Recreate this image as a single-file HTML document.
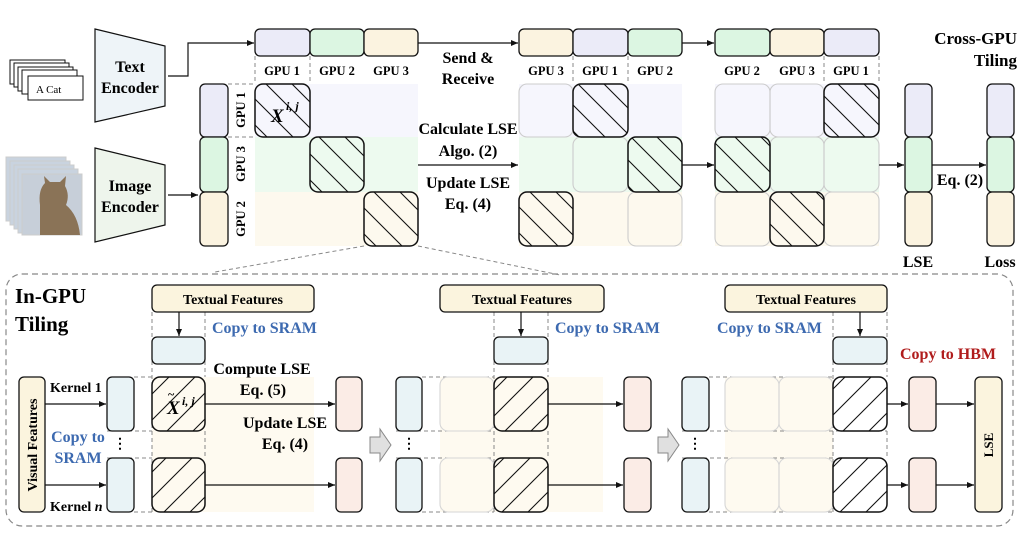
<!DOCTYPE html>
<html><head><meta charset="utf-8"><style>
html,body{margin:0;padding:0;background:#fff;}
svg{display:block;font-family:"Liberation Serif",serif;font-weight:bold;}
</style></head><body>
<svg width="1019" height="549" viewBox="0 0 1019 549" xmlns="http://www.w3.org/2000/svg">
<defs>
<pattern id="bs" patternUnits="userSpaceOnUse" width="26" height="26" x="0" y="0">
<path d="M-2,-2 L28,28 M-15,11 L15,41 M11,-15 L41,15" stroke="#111" stroke-width="1.1"/>
</pattern>
<pattern id="fs" patternUnits="userSpaceOnUse" width="26" height="26">
<path d="M-2,28 L28,-2 M-15,15 L15,-15 M11,41 L41,11" stroke="#111" stroke-width="1.1"/>
</pattern>
<marker id="ar" markerWidth="8" markerHeight="8" refX="7" refY="4" orient="auto" markerUnits="userSpaceOnUse">
<path d="M0,1 L7,4 L0,7 z" fill="#111"/>
</marker>
</defs>

<g fill="#fff" stroke="#111" stroke-width="1">
<rect x="10" y="60" width="55" height="24"/>
<rect x="14" y="63" width="55" height="24"/>
<rect x="18" y="67" width="55" height="24"/>
<rect x="22" y="70" width="55" height="24"/>
<rect x="28" y="76" width="55" height="24"/>
</g>
<text x="36" y="93" font-size="11" font-weight="normal">A Cat</text>
<g stroke="#ccc" stroke-width="1">
<rect x="6" y="157" width="60" height="64" fill="#c9d3df"/>
<rect x="10" y="161" width="60" height="64" fill="#c9d3df"/>
<rect x="14" y="165" width="60" height="64" fill="#c9d3df"/>
<rect x="18" y="169" width="60" height="64" fill="#c9d3df"/>
<rect x="22" y="174" width="60" height="61" fill="#c7cfd9"/>
</g>
<path d="M40,235 L40,205 Q38,190 45,183 L44,176 L50,182 L60,182 L66,176 L65,186 Q70,195 66,205 Q78,215 80,235 Z" fill="#8a7357"/>

<path d="M95,29 L165,46 L165,106 L95,122 Z" fill="#eef4f8" stroke="#111" stroke-width="1.2"/>
<path d="M95,148 L165,165 L165,225 L95,242 Z" fill="#eef5ec" stroke="#111" stroke-width="1.2"/>
<g font-size="16" text-anchor="middle">
<text x="130" y="72">Text</text><text x="130" y="93">Encoder</text>
<text x="130" y="191">Image</text><text x="130" y="212">Encoder</text>
</g>
<path d="M168,76 L188,76 L188,43 L254,43" fill="none" stroke="#111" stroke-width="1.2" marker-end="url(#ar)"/>
<path d="M168,195 L198,195" fill="none" stroke="#111" stroke-width="1.2" marker-end="url(#ar)"/>

<rect x="255" y="84" width="163" height="53" fill="#f6f6fd"/>
<rect x="255" y="137" width="163" height="55" fill="#edfaef"/>
<rect x="255" y="192" width="163" height="54" fill="#fdf9ee"/>
<rect x="519" y="84" width="163" height="53" fill="#f6f6fd"/>
<rect x="519" y="137" width="163" height="55" fill="#edfaef"/>
<rect x="519" y="192" width="163" height="54" fill="#fdf9ee"/>
<rect x="715" y="84" width="164" height="53" fill="#f6f6fd"/>
<rect x="715" y="137" width="164" height="55" fill="#edfaef"/>
<rect x="715" y="192" width="164" height="54" fill="#fdf9ee"/>

<g stroke="#111" stroke-width="1.3">
<rect x="255" y="29" width="55" height="27" rx="5" fill="#ebebf8"/>
<rect x="310" y="29" width="54" height="27" rx="5" fill="#dcf6e2"/>
<rect x="364" y="29" width="54" height="27" rx="5" fill="#fbf3e0"/>
<rect x="519" y="29" width="54" height="27" rx="5" fill="#fbf3e0"/>
<rect x="573" y="29" width="55" height="27" rx="5" fill="#ebebf8"/>
<rect x="628" y="29" width="54" height="27" rx="5" fill="#dcf6e2"/>
<rect x="715" y="29" width="55" height="27" rx="5" fill="#dcf6e2"/>
<rect x="770" y="29" width="54" height="27" rx="5" fill="#fbf3e0"/>
<rect x="824" y="29" width="55" height="27" rx="5" fill="#ebebf8"/>
<rect x="200" y="84" width="28" height="53" rx="5" fill="#ebebf8"/>
<rect x="200" y="137" width="28" height="55" rx="5" fill="#dcf6e2"/>
<rect x="200" y="192" width="28" height="54" rx="5" fill="#fbf3e0"/>
<rect x="905" y="84" width="27" height="53" rx="5" fill="#ebebf8"/>
<rect x="905" y="137" width="27" height="55" rx="5" fill="#dcf6e2"/>
<rect x="905" y="192" width="27" height="54" rx="5" fill="#fbf3e0"/>
<rect x="987" y="84" width="27" height="53" rx="5" fill="#ebebf8"/>
<rect x="987" y="137" width="27" height="55" rx="5" fill="#dcf6e2"/>
<rect x="987" y="192" width="27" height="54" rx="5" fill="#fbf3e0"/>
</g>
<g font-size="12.5" text-anchor="middle">
<text x="282" y="75">GPU 1</text><text x="337" y="75">GPU 2</text><text x="391" y="75">GPU 3</text>
<text x="546" y="75">GPU 3</text><text x="600" y="75">GPU 1</text><text x="655" y="75">GPU 2</text>
<text x="742" y="75">GPU 2</text><text x="797" y="75">GPU 3</text><text x="851" y="75">GPU 1</text>
</g>
<g font-size="12.5" text-anchor="middle">
<text transform="translate(245,110) rotate(-90)">GPU 1</text>
<text transform="translate(245,164) rotate(-90)">GPU 3</text>
<text transform="translate(245,219) rotate(-90)">GPU 2</text>
</g>
<g stroke="#888" stroke-width="1" stroke-dasharray="4,3" fill="none">
<path d="M255,56 V84 M310,56 V84 M228,84 H255 M228,137 H255"/>
<path d="M573,56 V84 M628,56 V84"/>
<path d="M824,56 V84 M879,56 V84"/>
<path d="M364,246 L215,272 M418,246 L560,275"/>
</g>

<g fill="none" stroke="#ccc" stroke-width="1.1">
<rect x="519" y="84" width="54" height="53" rx="8"/>
<rect x="573" y="137" width="55" height="55" rx="8"/>
<rect x="628" y="192" width="54" height="54" rx="8"/>
<rect x="715" y="84" width="55" height="53" rx="8"/>
<rect x="770" y="84" width="54" height="53" rx="8"/>
<rect x="770" y="137" width="54" height="55" rx="8"/>
<rect x="824" y="137" width="55" height="55" rx="8"/>
<rect x="715" y="192" width="55" height="54" rx="8"/>
<rect x="824" y="192" width="55" height="54" rx="8"/>
</g>
<g stroke="#111" stroke-width="1.5">
<rect x="255" y="84" width="55" height="53" rx="8" fill="url(#bs)"/>
<rect x="310" y="137" width="54" height="55" rx="8" fill="url(#bs)"/>
<rect x="364" y="192" width="54" height="54" rx="8" fill="url(#bs)"/>
<rect x="573" y="84" width="55" height="53" rx="8" fill="url(#bs)"/>
<rect x="628" y="137" width="54" height="55" rx="8" fill="url(#bs)"/>
<rect x="519" y="192" width="54" height="54" rx="8" fill="url(#bs)"/>
<rect x="824" y="84" width="55" height="53" rx="8" fill="url(#bs)"/>
<rect x="715" y="137" width="55" height="55" rx="8" fill="url(#bs)"/>
<rect x="770" y="192" width="54" height="54" rx="8" fill="url(#bs)"/>
</g>
<text x="271" y="122" font-size="19" font-style="italic">X</text>
<text x="286" y="110" font-size="12" font-style="italic">i, j</text>

<g stroke="#111" stroke-width="1.2" fill="none" marker-end="url(#ar)">
<path d="M418,43 H518"/>
<path d="M682,43 H714"/>
<path d="M418,165 H518"/>
<path d="M682,165 H714"/>
<path d="M879,165 H904"/>
<path d="M932,165 H986"/>
</g>
<g font-size="16" text-anchor="middle">
<text x="468" y="63">Send &amp;</text><text x="468" y="84">Receive</text>
<text x="468" y="134">Calculate LSE</text><text x="468" y="156">Algo. (2)</text>
<text x="468" y="188">Update LSE</text><text x="468" y="209">Eq. (4)</text>
<text x="960" y="185">Eq. (2)</text>
<text x="918" y="267">LSE</text><text x="1000" y="267">Loss</text>
</g>
<g font-size="17" text-anchor="end">
<text x="1017" y="44">Cross-GPU</text><text x="1017" y="66">Tiling</text>
</g>

<rect x="6" y="274" width="1007" height="252" rx="16" fill="none" stroke="#888" stroke-width="1.2" stroke-dasharray="6,4"/>
<text x="15" y="303" font-size="21">In-GPU</text>
<text x="15" y="331" font-size="21">Tiling</text>

<rect x="152" y="377" width="162" height="135" fill="#fefaf0"/>
<rect x="440" y="377" width="163" height="135" fill="#fefaf0"/>
<rect x="725" y="377" width="108" height="135" fill="#fefaf0"/>

<g stroke="#888" stroke-width="1" stroke-dasharray="4,3" fill="none">
<path d="M152,312 V512 M205,312 V377 M205,431 V458"/>
<path d="M134,377 H152 M107,431 H152 M107,458 H152 M134,512 H152"/>
<path d="M494,312 V512 M548,312 V377 M548,431 V458"/>
<path d="M422,377 H494 M396,431 H494 M396,458 H494 M422,512 H494"/>
<path d="M833,312 V512 M887,312 V377 M887,431 V458"/>
<path d="M709,377 H833 M682,431 H887 M682,458 H833 M709,512 H833"/>
</g>

<g stroke="#111" stroke-width="1.3">
<rect x="152" y="285" width="162" height="27" rx="5" fill="#fbf4de"/>
<rect x="440" y="285" width="164" height="27" rx="5" fill="#fbf4de"/>
<rect x="725" y="285" width="162" height="27" rx="5" fill="#fbf4de"/>
<rect x="152" y="337" width="53" height="27" rx="5" fill="#e9f3f6"/>
<rect x="494" y="337" width="54" height="27" rx="5" fill="#e9f3f6"/>
<rect x="833" y="337" width="54" height="27" rx="5" fill="#e9f3f6"/>
<rect x="19" y="377" width="26" height="135" rx="5" fill="#fbf4de"/>
<rect x="975" y="377" width="27" height="135" rx="5" fill="#fbf4de"/>
<rect x="107" y="377" width="27" height="54" rx="5" fill="#e9f3f6"/>
<rect x="107" y="458" width="27" height="54" rx="5" fill="#e9f3f6"/>
<rect x="396" y="377" width="26" height="54" rx="5" fill="#e9f3f6"/>
<rect x="396" y="458" width="26" height="54" rx="5" fill="#e9f3f6"/>
<rect x="682" y="377" width="27" height="54" rx="5" fill="#e9f3f6"/>
<rect x="682" y="458" width="27" height="54" rx="5" fill="#e9f3f6"/>
<rect x="336" y="377" width="26" height="54" rx="5" fill="#fbece6"/>
<rect x="336" y="458" width="26" height="54" rx="5" fill="#fbece6"/>
<rect x="624" y="377" width="27" height="54" rx="5" fill="#fbece6"/>
<rect x="624" y="458" width="27" height="54" rx="5" fill="#fbece6"/>
<rect x="909" y="377" width="27" height="54" rx="5" fill="#fbece6"/>
<rect x="909" y="458" width="27" height="54" rx="5" fill="#fbece6"/>
</g>
<g fill="none" stroke="#d6d6d6" stroke-width="1.1">
<rect x="440" y="377" width="54" height="54" rx="8"/>
<rect x="440" y="458" width="54" height="54" rx="8"/>
<rect x="725" y="377" width="54" height="54" rx="8"/>
<rect x="779" y="377" width="54" height="54" rx="8"/>
<rect x="725" y="458" width="54" height="54" rx="8"/>
<rect x="779" y="458" width="54" height="54" rx="8"/>
</g>
<g stroke="#111" stroke-width="1.5">
<rect x="152" y="377" width="53" height="54" rx="8" fill="url(#fs)"/>
<rect x="152" y="458" width="53" height="54" rx="8" fill="url(#fs)"/>
<rect x="494" y="377" width="54" height="54" rx="8" fill="url(#fs)"/>
<rect x="494" y="458" width="54" height="54" rx="8" fill="url(#fs)"/>
<rect x="833" y="377" width="54" height="54" rx="8" fill="url(#fs)"/>
<rect x="833" y="458" width="54" height="54" rx="8" fill="url(#fs)"/>
</g>
<text x="167" y="414" font-size="19" font-style="italic">X</text>
<text x="168" y="398" font-size="12">~</text>
<text x="182" y="405" font-size="12" font-style="italic">i, j</text>

<g stroke="#111" stroke-width="1.2" fill="none" marker-end="url(#ar)">
<path d="M179,312 V336"/><path d="M521,312 V336"/><path d="M860,312 V336"/>
<path d="M45,404 H106"/><path d="M45,485 H106"/>
<path d="M205,404 H335"/><path d="M205,485 H335"/>
<path d="M548,404 H623"/><path d="M548,485 H623"/>
<path d="M887,404 H908"/><path d="M887,485 H908"/>
<path d="M936,404 H974"/><path d="M936,485 H974"/>
</g>
<path d="M370,437 H380 V429 L391,445 L380,461 V453 H370 Z" fill="#e0e0e0" stroke="#888"/>
<path d="M658,437 H668 V429 L679,445 L668,461 V453 H658 Z" fill="#e0e0e0" stroke="#888"/>
<g font-size="14" text-anchor="middle"><text x="120" y="448">⋮</text><text x="409" y="448">⋮</text><text x="695" y="448">⋮</text></g>

<g font-size="14" text-anchor="middle">
<text x="233" y="304">Textual Features</text>
<text x="522" y="304">Textual Features</text>
<text x="806" y="304">Textual Features</text>
</g>
<g font-size="16" fill="#3d6ab0">
<text x="212" y="333">Copy to SRAM</text>
<text x="555" y="333">Copy to SRAM</text>
<text x="717" y="333">Copy to SRAM</text>
<text x="78" y="442" text-anchor="middle">Copy to</text>
<text x="78" y="463" text-anchor="middle">SRAM</text>
</g>
<text x="900" y="359" font-size="16" fill="#b01c1c">Copy to HBM</text>
<g font-size="16" text-anchor="middle">
<text x="262" y="374">Compute LSE</text>
<text x="263" y="395">Eq. (5)</text>
<text x="285" y="428">Update LSE</text>
<text x="285" y="449">Eq. (4)</text>
</g>
<g font-size="14">
<text x="50" y="392">Kernel 1</text>
<text x="50" y="511">Kernel <tspan font-style="italic">n</tspan></text>
</g>
<text transform="translate(37,445) rotate(-90)" font-size="14" text-anchor="middle">Visual Features</text>
<text transform="translate(993,445) rotate(-90)" font-size="13" text-anchor="middle">LSE</text>
</svg>
</body></html>
